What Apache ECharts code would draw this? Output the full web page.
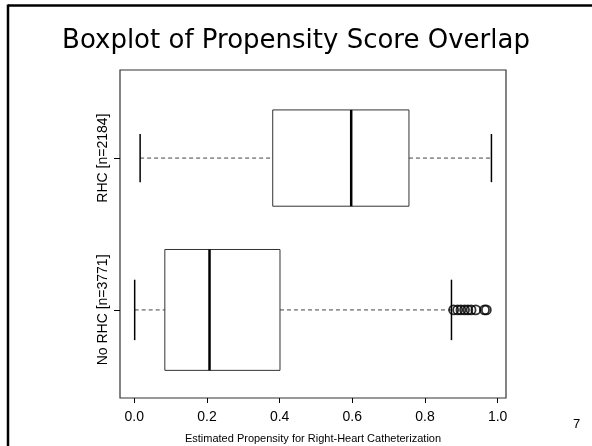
<!DOCTYPE html>
<html>
<head>
<meta charset="utf-8">
<script src="https://cdn.jsdelivr.net/npm/echarts@6/dist/echarts.min.js"></script>
<style>
html,body{margin:0;padding:0;background:#fff;}
#chart{width:592px;height:446px;}
</style>
</head>
<body>
<div id="chart"></div>
<script>
// ---- data ----
const categories = ['No RHC [n=3771]', 'RHC [n=2184]'];
const groupPos = [1, 2];
const whiskerLow = [0.001, 0.016];
const q1 = [0.084, 0.381];
const median = [0.207, 0.597];
const q3 = [0.401, 0.756];
const whiskerHigh = [0.873, 0.983];
const outliersNoRHC = [0.879, 0.890, 0.899, 0.909, 0.918, 0.927, 0.940, 0.964, 0.969];
const xTicks = [0, 0.2, 0.4, 0.6, 0.8, 1.0];
const title = 'Boxplot of Propensity Score Overlap';
const xName = 'Estimated Propensity for Right-Heart Catheterization';
const pageNo = '7';

// ---- styles ----
const boxHalf = {1: 0.398, 2: 0.317};

const boxData = groupPos.map((p, i) => [p, whiskerLow[i], q1[i], median[i], q3[i], whiskerHigh[i]]);
const outData = outliersNoRHC.map(v => [v, groupPos[0]]);

const chart = echarts.init(document.getElementById('chart'), null, {renderer: 'canvas'});

function renderBox(params, api) {
  const y = api.value(0);
  const lo = api.value(1), a = api.value(2), m = api.value(3), b = api.value(4), hi = api.value(5);
  const h = boxHalf[y];
  const top = api.coord([a, y + h])[1];
  const bot = api.coord([a, y - h])[1];
  const cy = api.coord([a, y])[1];
  const capTop = api.coord([a, y + h / 2])[1];
  const capBot = api.coord([a, y - h / 2])[1];
  const xlo = api.coord([lo, y])[0];
  const xa = api.coord([a, y])[0];
  const xm = api.coord([m, y])[0];
  const xb = api.coord([b, y])[0];
  const xhi = api.coord([hi, y])[0];
  const dash = {stroke: '#444', lineWidth: 1, lineDash: [4, 3]};
  return {
    type: 'group',
    children: [
      {type: 'line', shape: {x1: xlo, y1: cy, x2: xa, y2: cy}, style: dash},
      {type: 'line', shape: {x1: xb, y1: cy, x2: xhi, y2: cy}, style: dash},
      {type: 'line', shape: {x1: xlo, y1: capTop, x2: xlo, y2: capBot}, style: {stroke: '#000', lineWidth: 1.5}},
      {type: 'line', shape: {x1: xhi, y1: capTop, x2: xhi, y2: capBot}, style: {stroke: '#000', lineWidth: 1.5}},
      {type: 'rect', shape: {x: xa, y: top, width: xb - xa, height: bot - top}, style: {fill: 'none', stroke: '#333', lineWidth: 1}},
      {type: 'line', shape: {x1: xm, y1: top, x2: xm, y2: bot}, style: {stroke: '#000', lineWidth: 2.5}}
    ]
  };
}

const axisFont = {fontFamily: 'Liberation Sans', fontSize: 14, color: '#000'};

chart.setOption({
  animation: false,
  backgroundColor: '#fff',
  title: {
    text: title,
    left: 'center',
    top: 23,
    textStyle: {fontFamily: 'DejaVu Sans', fontSize: 26, fontWeight: 'normal', color: '#000'}
  },
  grid: {left: 120, right: 86, top: 70, bottom: 48, show: true, borderColor: '#333', borderWidth: 1.2, backgroundColor: 'transparent', containLabel: false, outerBoundsMode: 'none'},
  xAxis: {
    type: 'value',
    min: -0.0394,
    max: 1.0231,
    name: xName,
    nameLocation: 'middle',
    nameGap: 35,
    nameTextStyle: {fontFamily: 'Liberation Sans', fontSize: 11, color: '#000'},
    axisLine: {show: false, onZero: false},
    splitLine: {show: false},
    axisTick: {show: true, customValues: xTicks, length: 5, lineStyle: {color: '#000'}},
    axisLabel: Object.assign({customValues: xTicks, margin: 12, formatter: v => Number(v).toFixed(1)}, axisFont)
  },
  yAxis: {
    type: 'value',
    min: 0.42,
    max: 2.58,
    axisLine: {show: false, onZero: false},
    splitLine: {show: false},
    axisTick: {show: true, customValues: groupPos, length: 6, lineStyle: {color: '#000'}},
    axisLabel: Object.assign({customValues: groupPos, rotate: 90, margin: 10, formatter: v => categories[groupPos.indexOf(Number(v))]}, axisFont)
  },
  series: [
    {
      type: 'custom',
      renderItem: renderBox,
      data: boxData,
      encode: {x: [1, 2, 3, 4, 5], y: 0},
      silent: true
    },
    {
      type: 'scatter',
      data: outData,
      symbol: 'circle',
      symbolSize: 9,
      itemStyle: {color: 'rgba(0,0,0,0)', borderColor: '#000', borderWidth: 1.8},
      silent: true
    }
  ],
  graphic: [
    {type: 'line', shape: {x1: 8, y1: 5.5, x2: 592, y2: 5.5}, style: {stroke: '#000', lineWidth: 2.5}},
    {type: 'line', shape: {x1: 8, y1: 4.5, x2: 8, y2: 446}, style: {stroke: '#000', lineWidth: 2.5}},
    {type: 'text', left: 573, top: 418, style: {text: pageNo, fontFamily: 'Liberation Sans', fontSize: 13, fill: '#000'}}
  ]
});
</script>
</body>
</html>
